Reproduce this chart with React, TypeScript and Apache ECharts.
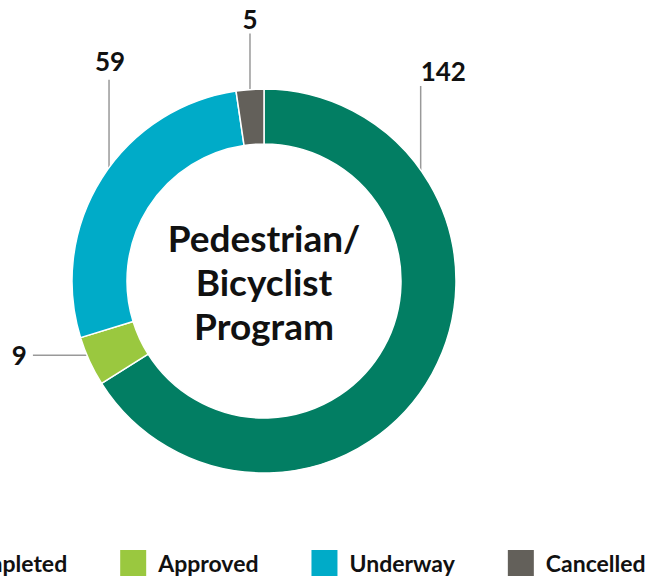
import React, { useEffect, useRef } from "react";
import * as echarts from "echarts";

const categories = ["Completed", "Approved", "Underway", "Cancelled"];
const values = [142, 9, 59, 5];
const colors = ["#027E63", "#9AC83F", "#00ABC8", "#63605A"];
const centerTitle = "Pedestrian/\nBicyclist\nProgram";

// layout constants (pixels)
const CX = 264;
const CY = 281;
const R_IN = 137;
const R_OUT = 192;
// per-slice label leader styling: where along slice the leader starts, direction and length
const LEADER = [
  { frac: 0.23, dir: "up", len: 84, gap: 15, align: "left", dx: 0 },
  { frac: 0.63, dir: "left", len: 54, gap: 6, align: "right", dx: 0 },
  { frac: 0.54, dir: "up", len: 88, gap: 19, align: "center", dx: 1 },
  { frac: 0.5, dir: "up", len: 56, gap: 15, align: "center", dx: 0 },
];

export default function App() {
  const ref = useRef<HTMLDivElement>(null);
  useEffect(() => {
    if (!ref.current) return;
    const chart = echarts.init(ref.current, null, { renderer: "svg" });
    const total = values.reduce((a, b) => a + b, 0);
    const cum: number[] = [];
    let acc = 0;
    values.forEach((v) => {
      cum.push(acc);
      acc += v;
    });
    const font = "Lato";
    chart.setOption({
      animation: false,
      backgroundColor: "#ffffff",
      color: colors,
      legend: {
        data: categories,
        top: 548,
        left: -85,
        width: 1200,
        padding: 0,
        icon: "rect",
        itemWidth: 28,
        itemHeight: 28,
        itemGap: 51,
        textStyle: {
          fontFamily: font,
          fontWeight: "bold",
          fontSize: 23,
          color: "#111",
          padding: [0, 0, 0, 6],
        },
      },
      graphic: [
        {
          type: "text",
          x: CX,
          y: CY,
          style: {
            text: centerTitle,
            fontFamily: font,
            fontWeight: "bold",
            fontSize: 37,
            lineHeight: 44,
            fill: "#111",
            textAlign: "center",
            textVerticalAlign: "middle",
          },
        },
      ],
      series: [
        {
          type: "pie",
          center: [CX, CY],
          radius: [R_IN, R_OUT],
          startAngle: 90,
          clockwise: true,
          avoidLabelOverlap: false,
          itemStyle: { borderColor: "#ffffff", borderWidth: 1.5 },
          label: {
            show: true,
            position: "outside",
            formatter: "{c}",
            fontFamily: font,
            fontWeight: "bold",
            fontSize: 26,
            color: "#111",
          },
          labelLine: {
            show: true,
            length: 10,
            length2: 10,
            lineStyle: { color: "#999", width: 1.5 },
          },
          labelLayout: (params: any) => {
            const i = params.dataIndex;
            const cfg = LEADER[i];
            const theta = ((cum[i] + cfg.frac * values[i]) / total) * Math.PI * 2;
            const ax = CX + R_OUT * Math.sin(theta);
            const ay = CY - R_OUT * Math.cos(theta);
            let ex = ax;
            let ey = ay;
            let lx = ax;
            let ly = ay;
            if (cfg.dir === "up") {
              ex = ax;
              ey = ay - cfg.len;
              lx = ex + cfg.dx;
              ly = ey - cfg.gap;
            } else {
              ex = ax - cfg.len;
              ey = ay;
              lx = ex - cfg.gap;
              ly = ey;
            }
            return {
              x: lx,
              y: ly,
              align: cfg.align,
              verticalAlign: "middle",
              labelLinePoints: [
                [ax, ay],
                [ex, ey],
                [ex, ey],
              ],
            };
          },
          data: categories.map((name, i) => ({ name, value: values[i] })),
        },
      ],
    });
    return () => chart.dispose();
  }, []);
  return (
    <div
      ref={ref}
      style={{ position: "absolute", left: 0, top: 0, width: 646, height: 578 }}
    />
  );
}
